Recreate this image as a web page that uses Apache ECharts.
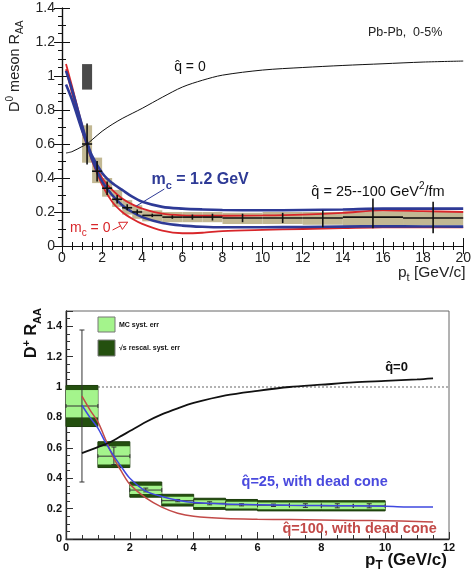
<!DOCTYPE html>
<html><head><meta charset="utf-8">
<script src="https://cdn.jsdelivr.net/npm/echarts@6/dist/echarts.min.js"></script>
<style>html,body{margin:0;padding:0;background:#fff}#c{width:474px;height:571px}</style>
</head><body><div id="c"></div>
<script>
// ===== Top panel: D0 meson R_AA, Pb-Pb 0-5% =====
const topBinLow   = [1.0,1.5,2.0,2.5,3.0,3.5,4,5,6,7,8,10,12,14,17];
const topBinHigh  = [1.5,2.0,2.5,3.0,3.5,4.0,5,6,7,8,10,12,14,17,20];
const topValue    = [0.60,0.44,0.34,0.275,0.225,0.20,0.18,0.17,0.17,0.17,0.165,0.165,0.165,0.17,0.165];
const topStatLow  = [0.48,0.38,0.30,0.25,0.21,0.185,0.17,0.16,0.155,0.15,0.14,0.135,0.11,0.105,0.075];
const topStatHigh = [0.72,0.50,0.38,0.30,0.245,0.215,0.19,0.18,0.185,0.19,0.19,0.195,0.21,0.28,0.26];
const topSystLow  = [0.49,0.37,0.29,0.23,0.185,0.16,0.145,0.14,0.14,0.14,0.13,0.13,0.125,0.12,0.12];
const topSystHigh = [0.71,0.52,0.40,0.33,0.27,0.24,0.21,0.20,0.20,0.20,0.195,0.20,0.20,0.205,0.205];
const normUncX = [1.0, 1.5];
const normUncY = [0.92, 1.07];

const topCurveX   = [0.2,0.5,1,1.25,1.5,2,2.5,3,3.5,4,5,6,7,8,10,12,14,16,18,20];
const topQhat0    = [0.547,0.555,0.585,0.60,0.625,0.675,0.715,0.75,0.78,0.81,0.875,0.935,0.975,1.005,1.035,1.05,1.062,1.072,1.082,1.088];
const topBlueUp   = [1.03,0.92,0.71,0.61,0.53,0.43,0.37,0.33,0.29,0.26,0.23,0.22,0.215,0.212,0.21,0.212,0.215,0.22,0.22,0.22];
const topRedUp    = [1.07,0.94,0.71,0.61,0.52,0.40,0.33,0.28,0.245,0.22,0.19,0.18,0.178,0.178,0.18,0.185,0.195,0.21,0.205,0.20];
const topBlueLow  = [0.95,0.86,0.68,0.60,0.51,0.38,0.30,0.24,0.20,0.17,0.135,0.12,0.113,0.11,0.11,0.112,0.114,0.116,0.115,0.114];
const topRedLow   = [1.04,0.90,0.68,0.59,0.50,0.36,0.26,0.20,0.16,0.13,0.09,0.075,0.078,0.088,0.095,0.10,0.105,0.11,0.11,0.11];

// annotation text anchors (data units of the top panel)
const topLabelX = [15.25, 5.59, 4.46, 12.43, 0.40];
const topLabelY = [1.253, 1.053, 0.388, 0.318, 0.106];
const arrowX1 = [5.1, 2.52], arrowY1 = [0.335, 0.094];
const arrowX2 = [3.7, 3.27], arrowY2 = [0.235, 0.14];

// ===== Bottom panel: D+ R_AA =====
const botBinLow   = [0,1,2,3,4,5,6,8];
const botBinHigh  = [1,2,3,4,5,6,8,10];
const botRescLow  = [0.74,0.47,0.275,0.217,0.195,0.19,0.185,0.185];
const botRescHigh = [1.01,0.64,0.375,0.294,0.268,0.26,0.252,0.252];
const botMcLow    = [0.80,0.49,0.296,0.234,0.21,0.20,0.195,0.195];
const botMcHigh   = [0.98,0.61,0.35,0.278,0.255,0.245,0.24,0.24];
const botPtX      = [0.5,1.5,2.5,3.5,4.5,5.5,6.5,7.5,8.5,9.5];
const botPtXLow   = [0,1,2,3,4,5,6,7,8,9];
const botPtXHigh  = [1,2,3,4,5,6,7,8,9,10];
const botValue    = [0.875,0.545,0.322,0.252,0.235,0.225,0.222,0.22,0.218,0.218];
const botStatLow  = [0.375,0.49,0.31,0.245,0.225,0.218,0.214,0.208,0.205,0.205];
const botStatHigh = [1.375,0.605,0.335,0.26,0.245,0.232,0.23,0.232,0.232,0.232];

const botCurveX   = [0.5,0.75,1,1.25,1.5,1.75,2,2.5,3,3.5,4,5,6,7,8,9,10,11,11.5];
const botQhat0    = [0.565,0.585,0.605,0.625,0.65,0.68,0.71,0.77,0.82,0.86,0.895,0.945,0.975,1.0,1.015,1.03,1.04,1.05,1.057];
const botQhat25   = [0.88,0.80,0.73,0.63,0.545,0.47,0.40,0.315,0.28,0.255,0.24,0.23,0.225,0.222,0.22,0.218,0.215,0.21,0.21];
const botQhat100  = [0.94,0.85,0.77,0.65,0.53,0.44,0.36,0.27,0.21,0.17,0.15,0.135,0.13,0.128,0.125,0.122,0.12,0.115,0.112];
const botLabelX = [10.0, 5.5, 6.78];
const botLabelY = [1.13, 0.375, 0.066];

const FONT = '"Liberation Sans", Arial, Helvetica, sans-serif';
const QH = 'q\u0302';

function zip(xs, ys){ return xs.map((x,i)=>[x, ys[i]]); }

function rectRender(fill, stroke, lw){
  return function(params, api){
    const p1 = api.coord([api.value(0), api.value(3)]);
    const p2 = api.coord([api.value(1), api.value(2)]);
    return {type:'rect', shape:{x:p1[0], y:p1[1], width:p2[0]-p1[0], height:p2[1]-p1[1]},
      style:{fill:fill, stroke:stroke||null, lineWidth:lw||0}};
  };
}
function crossRender(color, lw, cap){
  return function(params, api){
    const x=api.value(0), y=api.value(1);
    const a=api.coord([api.value(2),y]), b=api.coord([api.value(3),y]);
    const c=api.coord([x,api.value(4)]), d=api.coord([x,api.value(5)]);
    const st={stroke:color, lineWidth:lw};
    const ch=[
      {type:'line', shape:{x1:a[0],y1:a[1],x2:b[0],y2:b[1]}, style:st},
      {type:'line', shape:{x1:c[0],y1:c[1],x2:d[0],y2:d[1]}, style:st}
    ];
    if(cap){
      ch.push({type:'line', shape:{x1:c[0]-cap,y1:c[1],x2:c[0]+cap,y2:c[1]}, style:st});
      ch.push({type:'line', shape:{x1:d[0]-cap,y1:d[1],x2:d[0]+cap,y2:d[1]}, style:st});
      ch.push({type:'line', shape:{x1:a[0],y1:a[1]-2,x2:a[0],y2:a[1]+2}, style:st});
      ch.push({type:'line', shape:{x1:b[0],y1:b[1]-2,x2:b[0],y2:b[1]+2}, style:st});
    }
    return {type:'group', children:ch};
  };
}

function rich(size, color, weight){
  const s = Math.round(size*0.68);
  return {
    n:{fontSize:size, fontFamily:FONT, fill:color, fontWeight:weight, lineHeight:size+6},
    sub:{fontSize:s, fontFamily:FONT, fill:color, fontWeight:weight, lineHeight:s, verticalAlign:'bottom'},
    sup:{fontSize:s, fontFamily:FONT, fill:color, fontWeight:weight, lineHeight:s, verticalAlign:'top'}
  };
}

const topBlue = '#2e3a96', topRed = '#d8262a';
const topLabelText = [
  {t:'{n|Pb-Pb,  0-5%}', r:rich(12.5,'#222','normal')},
  {t:'{n|'+QH+' = 0}', r:rich(14,'#111','normal')},
  {t:'{n|m}{sub|c}{n| = 1.2 GeV}', r:rich(16,topBlue,'bold')},
  {t:'{n|'+QH+' = 25--100 GeV}{sup|2}{n|/fm}', r:rich(14.5,'#111','normal')},
  {t:'{n|m}{sub|c}{n| = 0}', r:rich(14,topRed,'normal')}
];
const botLabelText = [
  {t:'{n|'+QH+'=0}', r:rich(13,'#111','bold')},
  {t:'{n|'+QH+'=25, with dead cone}', r:rich(14.5,'#4a4ade','bold')},
  {t:'{n|'+QH+'=100, with dead cone}', r:rich(14.5,'#c24a48','bold')}
];
function labelRender(list){
  return function(params, api){
    const p = api.coord([api.value(0), api.value(1)]);
    const L = list[params.dataIndex];
    return {type:'text', x:p[0], y:p[1], style:{text:L.t, rich:L.r, textAlign:'left', textVerticalAlign:'middle'}};
  };
}
function arrowRender(colors, heads){
  return function(params, api){
    const i = params.dataIndex;
    const a = api.coord([api.value(0), api.value(1)]);
    const b = api.coord([api.value(2), api.value(3)]);
    const ch = [{type:'line', shape:{x1:a[0],y1:a[1],x2:b[0],y2:b[1]}, style:{stroke:colors[i], lineWidth:1}}];
    if(heads[i]){
      const ang = Math.atan2(b[1]-a[1], b[0]-a[0]);
      const L=8, W=4;
      const bx=b[0]-L*Math.cos(ang), by=b[1]-L*Math.sin(ang);
      const px=-Math.sin(ang)*W, py=Math.cos(ang)*W;
      ch.push({type:'polygon', shape:{points:[[b[0],b[1]],[bx+px,by+py],[bx-px,by-py]]}, style:{fill:'#fff', stroke:colors[i], lineWidth:1}});
    }
    return {type:'group', children:ch};
  };
}

const axBase = {
  type:'value', splitLine:{show:false},
  axisLine:{show:true, lineStyle:{color:'#111', width:1.2}},
  axisTick:{show:true, inside:true, length:8, lineStyle:{color:'#111', width:1}},
  minorTick:{show:true, length:4, lineStyle:{color:'#111', width:1}},
  axisLabel:{fontFamily:FONT, fontSize:14, color:'#222'}
};
function ax(extra){ return echarts.util.merge(echarts.util.clone(axBase), extra, true); }

const botAx = {
  axisLine:{show:true, lineStyle:{color:'#222', width:1.3}},
  axisTick:{show:true, inside:true, length:7, lineStyle:{color:'#333', width:1}},
  minorTick:{show:true, length:4, splitNumber:4, lineStyle:{color:'#333', width:1}},
  axisLabel:{fontFamily:FONT, fontSize:11, fontWeight:'bold', color:'#111'}
};

const chart = echarts.init(document.getElementById('c'));
const option = {
  animation:false,
  backgroundColor:'#fff',
  grid:[
    {left:62, top:8, width:404, height:238, show:false},
    {left:66, top:311, width:383, height:228, show:true, borderColor:'#666', borderWidth:1, backgroundColor:'transparent'}
  ],
  xAxis:[
    ax({gridIndex:0, min:0, max:20, interval:2, minorTick:{splitNumber:4}, axisLabel:{margin:5}}),
    ax({gridIndex:0, min:0, max:20, interval:2, position:'top', minorTick:{splitNumber:4}, axisLabel:{show:false}}),
    ax(Object.assign({gridIndex:1, min:0, max:12, interval:2}, {axisLine:botAx.axisLine, axisTick:botAx.axisTick, minorTick:botAx.minorTick, axisLabel:Object.assign({margin:3}, botAx.axisLabel)}))
  ],
  yAxis:[
    ax({gridIndex:0, min:0, max:1.4, interval:0.2, minorTick:{splitNumber:2}, axisLabel:{margin:7}}),
    ax({gridIndex:0, min:0, max:1.4, interval:0.2, position:'right', minorTick:{splitNumber:4}, axisLabel:{show:false}}),
    ax(Object.assign({gridIndex:1, min:0, max:1.5, interval:0.2}, {axisLine:botAx.axisLine, axisTick:botAx.axisTick, minorTick:botAx.minorTick, axisLabel:Object.assign({margin:4, showMaxLabel:false}, botAx.axisLabel)}))
  ],
  series:[
    // ---- top ----
    {type:'custom', xAxisIndex:0, yAxisIndex:0, silent:true, z:1, encode:{x:[0,1], y:[2,3]},
      data: topBinLow.map((l,i)=>[l, topBinHigh[i], topSystLow[i], topSystHigh[i]]),
      renderItem: rectRender('#c2b893')},
    {type:'custom', xAxisIndex:0, yAxisIndex:0, silent:true, z:2, encode:{x:[0,1], y:[2,3]},
      data: [[normUncX[0], normUncX[1], normUncY[0], normUncY[1]]],
      renderItem: rectRender('#4a4a4a')},
    {type:'line', xAxisIndex:0, yAxisIndex:0, z:3, data:zip(topCurveX, topQhat0), symbol:'none', smooth:0.3, lineStyle:{color:'#111', width:1}},
    {type:'line', xAxisIndex:0, yAxisIndex:0, z:3, data:zip(topCurveX, topRedUp), symbol:'none', smooth:0.3, lineStyle:{color:topRed, width:1.8}},
    {type:'line', xAxisIndex:0, yAxisIndex:0, z:3, data:zip(topCurveX, topRedLow), symbol:'none', smooth:0.3, lineStyle:{color:topRed, width:1.8}},
    {type:'line', xAxisIndex:0, yAxisIndex:0, z:4, data:zip(topCurveX, topBlueUp), symbol:'none', smooth:0.3, lineStyle:{color:topBlue, width:2.6}},
    {type:'line', xAxisIndex:0, yAxisIndex:0, z:4, data:zip(topCurveX, topBlueLow), symbol:'none', smooth:0.3, lineStyle:{color:topBlue, width:2.6}},
    {type:'custom', xAxisIndex:0, yAxisIndex:0, silent:true, z:5, encode:{x:[2,3], y:[4,5]},
      data: topValue.map((v,i)=>[(topBinLow[i]+topBinHigh[i])/2, v, topBinLow[i], topBinHigh[i], topStatLow[i], topStatHigh[i]]),
      renderItem: crossRender('#111', 1.6, 0)},
    {type:'custom', xAxisIndex:0, yAxisIndex:0, silent:true, z:6, encode:{x:[0,2], y:[1,3]},
      data: arrowX1.map((x,i)=>[x, arrowY1[i], arrowX2[i], arrowY2[i]]),
      renderItem: arrowRender([topBlue, topRed],[false,true])},
    {type:'custom', xAxisIndex:0, yAxisIndex:0, silent:true, z:7, encode:{x:0, y:1},
      data: topLabelX.map((x,i)=>[x, topLabelY[i]]),
      renderItem: labelRender(topLabelText)},
    // ---- bottom ----
    {type:'line', xAxisIndex:2, yAxisIndex:2, z:1, data:[[0,1],[12,1]], symbol:'none', lineStyle:{color:'#999', width:1.3, type:[2,2]}},
    {type:'custom', xAxisIndex:2, yAxisIndex:2, silent:true, z:2, encode:{x:[0,1], y:[2,3]},
      data: botBinLow.map((l,i)=>[l, botBinHigh[i], botRescLow[i], botRescHigh[i]]),
      renderItem: rectRender('#24500f', '#1c3d0c', 1)},
    {type:'custom', xAxisIndex:2, yAxisIndex:2, silent:true, z:3, encode:{x:[0,1], y:[2,3]},
      data: botBinLow.map((l,i)=>[l, botBinHigh[i], botMcLow[i], botMcHigh[i]]),
      renderItem: rectRender('#a4f48c')},
    {type:'custom', xAxisIndex:2, yAxisIndex:2, silent:true, z:4, encode:{x:[2,3], y:[4,5]},
      data: botValue.map((v,i)=>[botPtX[i], v, botPtXLow[i], botPtXHigh[i], botStatLow[i], botStatHigh[i]]),
      renderItem: crossRender('#333', 1, 2.5)},
    {type:'line', xAxisIndex:2, yAxisIndex:2, z:5, data:zip(botCurveX, botQhat100), symbol:'none', smooth:0.3, lineStyle:{color:'#c24a48', width:1.5}},
    {type:'line', xAxisIndex:2, yAxisIndex:2, z:5, data:zip(botCurveX, botQhat25), symbol:'none', smooth:0.3, lineStyle:{color:'#3f48e0', width:1.5}},
    {type:'line', xAxisIndex:2, yAxisIndex:2, z:5, data:zip(botCurveX, botQhat0), symbol:'none', smooth:0.3, lineStyle:{color:'#111', width:1.8}},
    {type:'custom', xAxisIndex:2, yAxisIndex:2, silent:true, z:7, encode:{x:0, y:1},
      data: botLabelX.map((x,i)=>[x, botLabelY[i]]),
      renderItem: labelRender(botLabelText)}
  ],
  graphic:[
    {type:'text', x:15, y:112, rotation:Math.PI/2, style:{text:'{n|D}{sup|0}{n| meson R}{sub|AA}', rich:rich(14.5,'#222','normal'), textAlign:'left', textVerticalAlign:'middle'}},
    {type:'text', x:398, y:273, style:{text:'{n|p}{sub|t}{n| [GeV/c]}', rich:rich(15.5,'#222','normal'), textAlign:'left', textVerticalAlign:'middle'}},
    {type:'text', x:32, y:358, rotation:Math.PI/2, style:{text:'{n|D}{sup|+}{n| R}{sub|AA}', rich:rich(16,'#111','bold'), textAlign:'left', textVerticalAlign:'middle'}},
    {type:'text', x:365, y:560, style:{text:'{n|p}{sub|T}{n| (GeV/c)}', rich:rich(17,'#111','bold'), textAlign:'left', textVerticalAlign:'middle'}},
    {type:'rect', shape:{x:98, y:317, width:17, height:15}, style:{fill:'#a4f48c', stroke:'#777', lineWidth:1}},
    {type:'rect', shape:{x:98, y:340, width:17, height:16}, style:{fill:'#24500f', stroke:'#777', lineWidth:1}},
    {type:'text', x:119, y:325, style:{text:'MC syst. err', font:'bold 7px '+FONT, fill:'#111', textVerticalAlign:'middle'}},
    {type:'text', x:119, y:348, style:{text:'\u221As rescal. syst. err', font:'bold 7px '+FONT, fill:'#111', textVerticalAlign:'middle'}}
  ]
};
chart.setOption(option);
</script>
</body></html>
